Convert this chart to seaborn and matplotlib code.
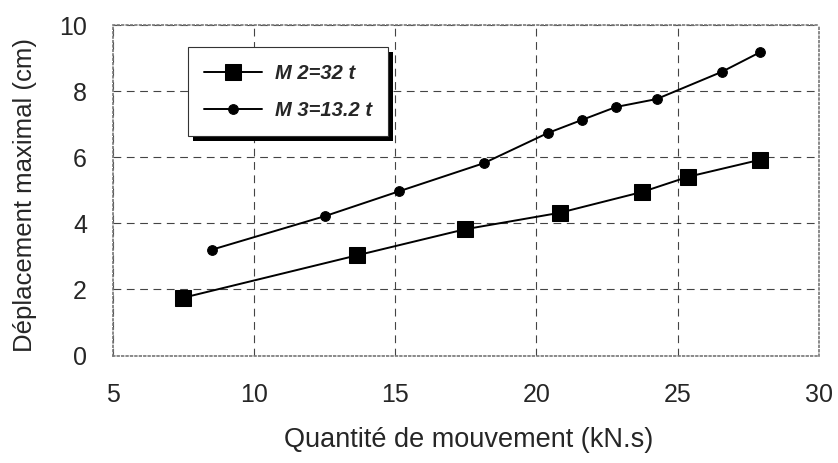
import numpy as np
import pandas as pd
import seaborn as sns
import matplotlib.pyplot as plt
import matplotlib.patheffects as pe

# values
x_m2 = [7.5, 13.64, 17.47, 20.83, 23.75, 25.38, 27.91]
y_m2 = [1.75, 3.03, 3.82, 4.32, 4.95, 5.41, 5.92]
x_m3 = [8.5, 12.52, 15.14, 18.14, 20.4, 21.62, 22.82, 24.26, 26.56, 27.91]
y_m3 = [3.2, 4.22, 4.97, 5.82, 6.73, 7.13, 7.52, 7.76, 8.58, 9.17]
labels = ["M 2=32 t", "M 3=13.2 t"]
x_ticks = [5, 10, 15, 20, 25, 30]
y_ticks = [0, 2, 4, 6, 8, 10]

df2 = pd.DataFrame({"x": x_m2, "y": y_m2})
df3 = pd.DataFrame({"x": x_m3, "y": y_m3})

sns.set_style("white")
plt.rcParams["font.family"] = ["Liberation Sans", "DejaVu Sans"]

fig, ax = plt.subplots(figsize=(8.38, 4.63), dpi=100)
fig.subplots_adjust(left=0.1345, right=0.977, top=0.946, bottom=0.232)

sns.lineplot(data=df2, x="x", y="y", ax=ax, color="black", lw=1.4,
             marker="s", markersize=12, markeredgecolor="black", label=labels[0])
sns.lineplot(data=df3, x="x", y="y", ax=ax, color="black", lw=1.4,
             marker="o", markersize=7, markeredgecolor="black", label=labels[1])

ax.set_xlim(5, 30)
ax.set_ylim(0, 10)
ax.set_xticks(x_ticks)
ax.set_yticks(y_ticks)
ax.grid(True, color="#444444", linestyle=(0, (7, 5)), linewidth=0.8)
for s in ax.spines.values():
    s.set_color("#777777")
    s.set_linestyle(":")
    s.set_linewidth(1.2)
ax.tick_params(axis="both", labelsize=18, direction="inout", length=5,
               width=0.8, color="#555555")
ax.tick_params(axis="x", pad=17)
ax.tick_params(axis="y", pad=16)

ax.set_xlabel("Quantité de mouvement (kN.s)", fontsize=19.5)
ax.xaxis.label.set_va("center")
ax.xaxis.set_label_coords(0.504, -0.254)
ax.set_ylabel("Déplacement maximal (cm)", fontsize=18.5, loc="bottom")
ax.yaxis.label.set_va("center")
ax.yaxis.set_label_coords(-0.124, 0.01)

leg = ax.legend(loc="upper left", bbox_to_anchor=(0.1066, 0.932),
                borderaxespad=0, frameon=True, fancybox=False, borderpad=0.8,
                labelspacing=0.9, handlelength=2.9, handletextpad=0.6,
                prop={"style": "italic", "weight": "bold", "size": 14.5})
frame = leg.get_frame()
frame.set_edgecolor("#333333")
frame.set_linewidth(0.8)
frame.set_alpha(1)
# heavy black drop shadow on the right and bottom of the legend box
frame.set_path_effects([
    pe.SimplePatchShadow(offset=(3.5, -3.5), shadow_rgbFace="black", alpha=1.0),
    pe.Normal(),
])

fig.savefig("out.png", dpi=100)
